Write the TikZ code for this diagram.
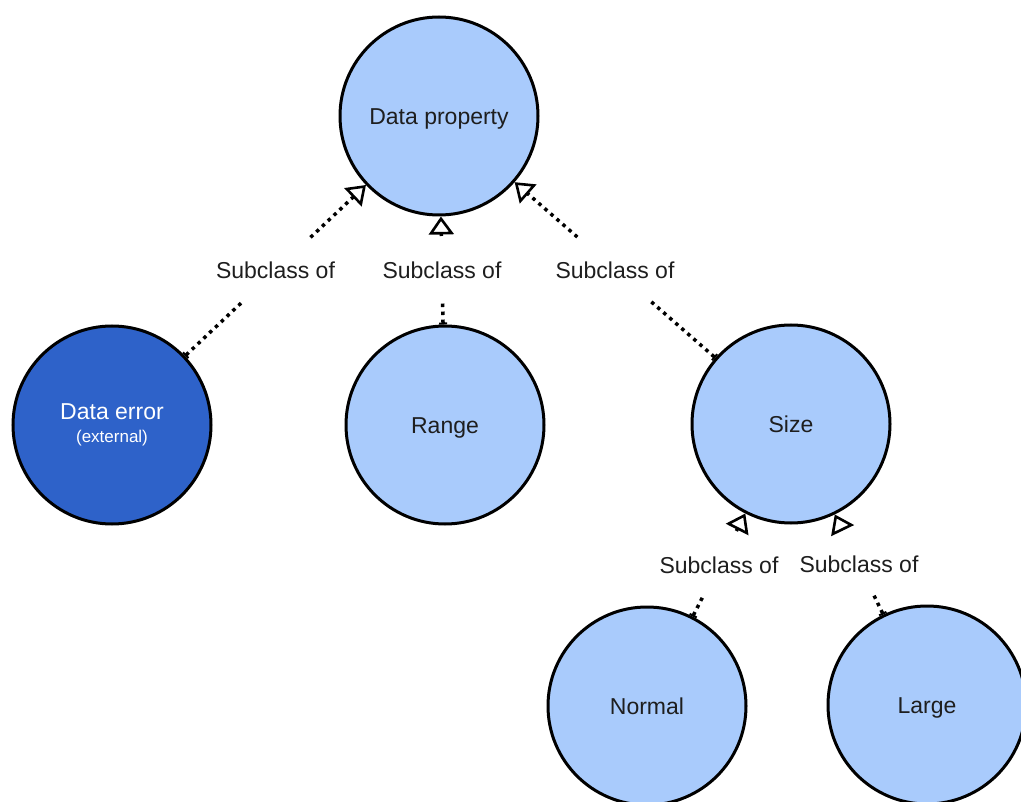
\documentclass[tikz,border=0pt]{standalone}
\usepackage{fontspec}
\setmainfont{Liberation Sans}
\usetikzlibrary{arrows.meta}
\definecolor{classfill}{HTML}{A9CBFC}
\definecolor{extfill}{HTML}{2E62C9}
\definecolor{ink}{HTML}{1E1E1E}
\tikzset{
  classbase/.style={circle, draw=black, line width=3pt, fill=classfill,
    minimum size=198pt, inner sep=0pt, text=ink,
    font=\fontsize{23}{27}\selectfont, align=center},
  classnode/.style={classbase, text height=16.5pt, text depth=0pt},
  extnode/.style={classbase, fill=extfill, text=white},
  dots/.style={line width=3.5pt, dash pattern=on 3.5pt off 4.5pt},
  childend/.style={dots, {Bar[width=8pt, line width=2pt]}-},
  parentend/.style={dots, dash phase=3.5pt,
    -{Triangle[length=18pt, width=25pt, fill=white, line width=2.6pt]}},
  sublabel/.style={text=ink, inner xsep=2pt, outer sep=0pt, minimum height=60pt,
    font=\fontsize{23}{27}\selectfont}
}
\begin{document}
\begin{tikzpicture}[x=1pt, y=-1pt]
  \useasboundingbox (0,0) rectangle (1021,802);

  % classes
  \node[classnode] (prop)   at (439,116) {Data property};
  \node[extnode]   (err)    at (112,425) {Data error\\[-4pt]{\fontsize{17}{20}\selectfont (external)}};
  \node[classnode] (range)  at (445,425) {Range};
  \node[classnode] (size)   at (791,424) {Size};
  \node[classnode] (normal) at (647,706) {Normal};
  \node[classnode] (large)  at (927,705) {Large};

  % relation labels, halfway between the two classes
  \path (err)    -- (prop) node[midway, sublabel] (l1) {Subclass of};
  \path (range)  -- (prop) node[midway, sublabel] (l2) {Subclass of};
  \path (size)   -- (prop) node[midway, sublabel] (l3) {Subclass of};
  \path (normal) -- (size) node[midway, sublabel] (l4) {Subclass of};
  \path (large)  -- (size) node[midway, sublabel] (l5) {Subclass of};

  % subclass relations, broken around their labels
  \draw[childend]  (err) -- (l1);    \draw[parentend] (l1) -- (prop);
  \draw[childend]  (range) -- (l2);  \draw[parentend] (l2) -- (prop);
  \draw[childend]  (size) -- (l3);   \draw[parentend] (l3) -- (prop);
  \draw[childend]  (normal) -- (l4); \draw[parentend] (l4) -- (size);
  \draw[childend]  (large) -- (l5);  \draw[parentend] (l5) -- (size);
\end{tikzpicture}
\end{document}
